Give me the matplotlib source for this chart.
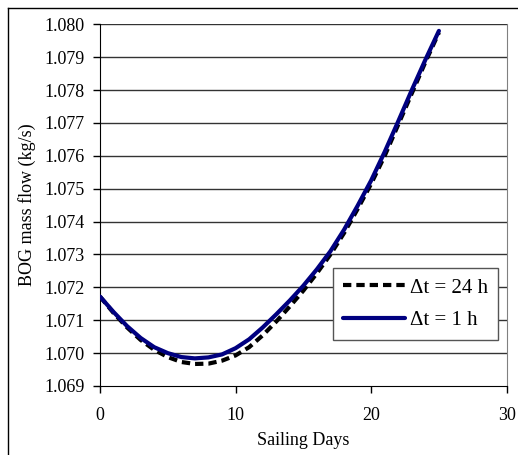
import matplotlib.pyplot as plt
from matplotlib.lines import Line2D

days = list(range(26))
bog_24h = [1.07172, 1.07122, 1.07078, 1.07040, 1.07010, 1.06988, 1.06973, 1.06967,
           1.06968, 1.06977, 1.06993, 1.07018, 1.07054, 1.07096, 1.07142, 1.07190,
           1.07243, 1.07300, 1.07365, 1.07438, 1.07515, 1.07600, 1.07695, 1.07790,
           1.07885, 1.07975]
bog_1h = [1.07172, 1.07125, 1.07082, 1.07046, 1.07018, 1.07000, 1.06988, 1.06984,
          1.06987, 1.06996, 1.07015, 1.07042, 1.07078, 1.07118, 1.07160, 1.07205,
          1.07255, 1.07310, 1.07375, 1.07448, 1.07525, 1.07612, 1.07705, 1.07800,
          1.07892, 1.07980]
yticks = [1.069, 1.070, 1.071, 1.072, 1.073, 1.074, 1.075, 1.076, 1.077, 1.078, 1.079, 1.080]

plt.rcParams["font.family"] = ["Liberation Serif", "DejaVu Serif"]
plt.rcParams["font.size"] = 13

W, H = 518, 455
fig = plt.figure(figsize=(W / 100, H / 100), dpi=100)
ax = fig.add_axes([100 / W, 1 - 386 / H, 406.7 / W, 361.7 / H])

# outer frame (top and left edge only visible)
fig.add_artist(Line2D([8 / W, 1], [1 - 8 / H, 1 - 8 / H], color="black", lw=1))
fig.add_artist(Line2D([8 / W, 8 / W], [1 - 8 / H, 1 - 454 / H], color="black", lw=1))

for y in yticks[1:]:
    ax.axhline(y, color="#333333", lw=1, zorder=0)

ax.plot(days, bog_24h, color="black", lw=3, linestyle=(0, (2, 1.2)), label="\u0394t = 24 h", zorder=3)
ax.plot(days, bog_1h, color="#000080", lw=3, label="\u0394t = 1 h", zorder=4,
        solid_capstyle="round")

ax.set_xlim(0, 30)
ax.set_ylim(1.069, 1.080)
ax.set_xticks([0, 10, 20, 30])
ax.set_yticks(yticks)
ax.set_yticklabels([f"{v:.3f}" for v in yticks])
ax.tick_params(direction="out", length=5, width=1, pad=6)
ax.tick_params(axis="x", pad=10)

ax.spines["top"].set_visible(False)
ax.spines["right"].set_color("#808080")
ax.spines["left"].set_color("black")
ax.spines["bottom"].set_color("black")

ax.set_xlabel("Sailing Days", labelpad=6)
ax.set_ylabel("BOG mass flow (kg/s)", labelpad=6)

leg = ax.legend(loc="upper right", bbox_to_anchor=(0.979, 0.327), borderaxespad=0,
                fancybox=False, edgecolor="#555555", framealpha=1, fontsize=15,
                handlelength=3.0, handletextpad=0.2, borderpad=0.5, labelspacing=0.6)
leg.get_frame().set_linewidth(1)

fig.savefig("out.png", dpi=100)
plt.close(fig)
